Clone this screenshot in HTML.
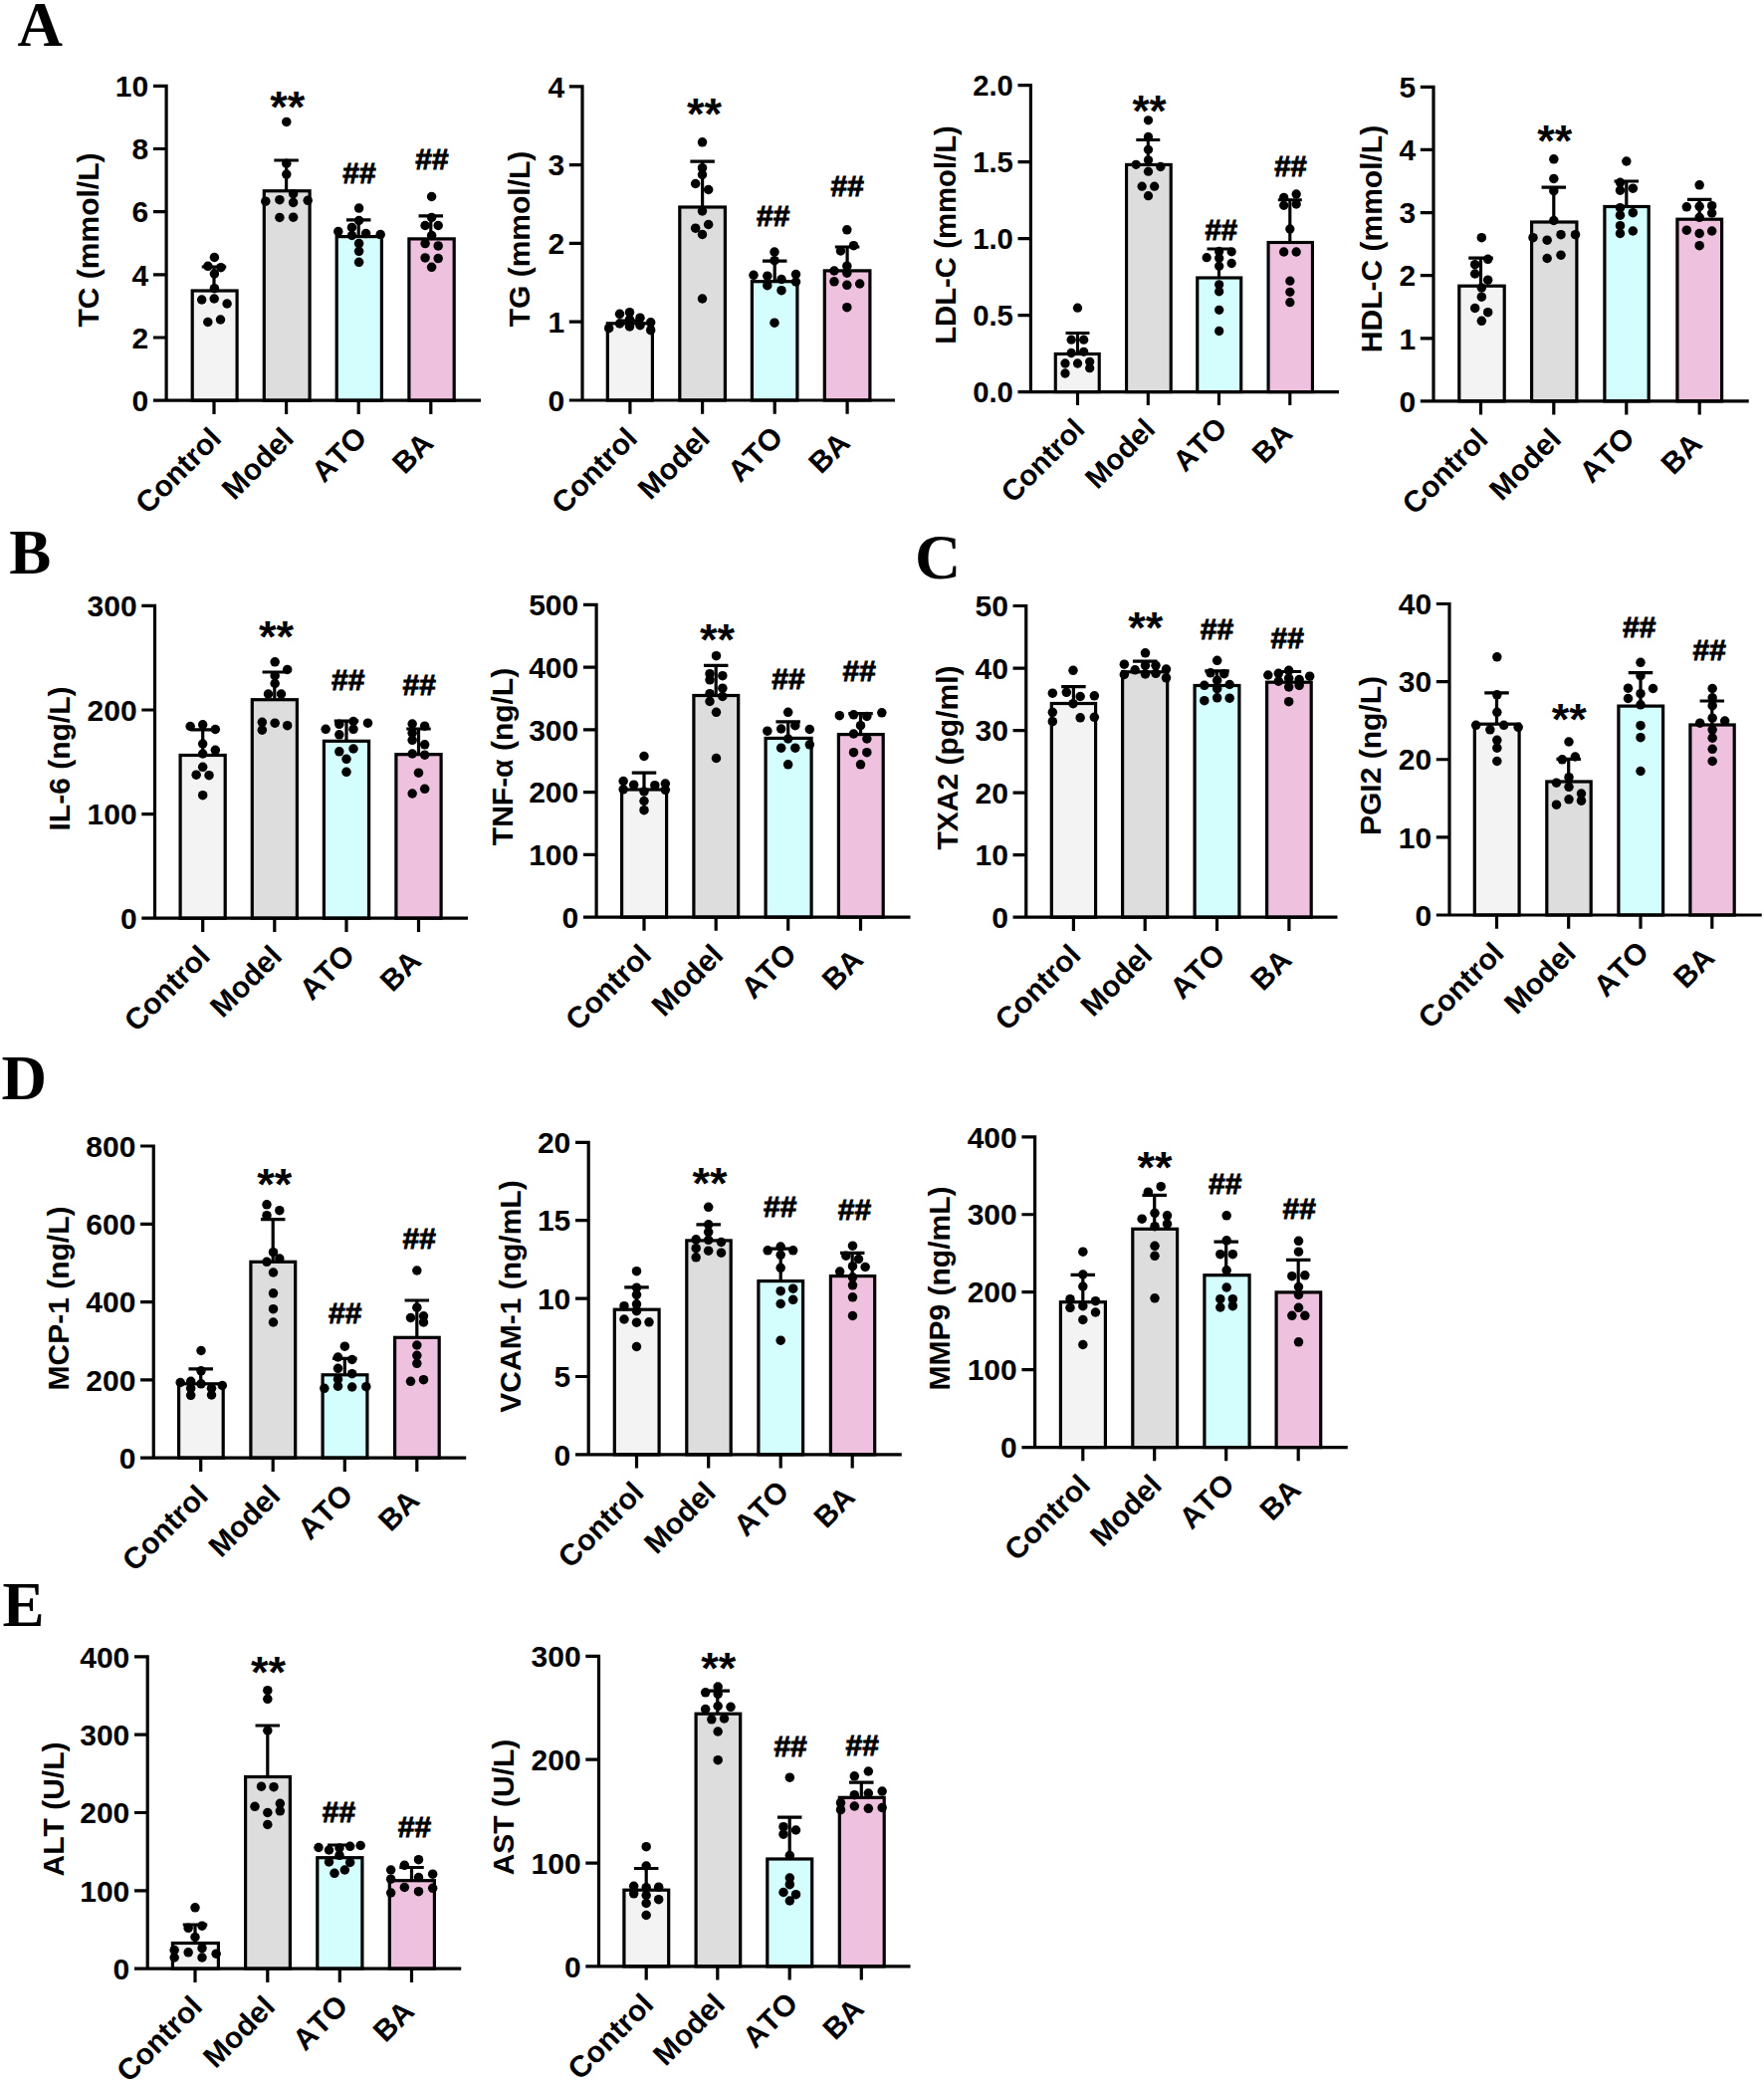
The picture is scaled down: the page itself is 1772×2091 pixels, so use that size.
<!DOCTYPE html>
<html lang="en">
<head>
<meta charset="utf-8">
<title>Figure</title>
<style>
html,body{margin:0;padding:0;background:#fff;}
body{width:1772px;height:2091px;overflow:hidden;}
svg{display:block;}
text{fill:#000;font-kerning:none;}
.b{font-family:"Liberation Sans",Arial,Helvetica,sans-serif;font-weight:700;}
.s{font-family:"Liberation Sans",Arial,Helvetica,sans-serif;font-weight:700;}
.h{font-family:"Liberation Sans",Arial,Helvetica,sans-serif;font-weight:700;stroke:#000;stroke-width:0.9px;stroke-linejoin:miter;}
.L{font-family:"Liberation Serif","Times New Roman",Times,serif;font-weight:700;}
</style>
</head>
<body>
<svg width="1772" height="2091" viewBox="0 0 1772 2091">
<rect width="1772" height="2091" fill="#fff"/>
<g class="chart" id="c-TC">
<rect x="193.2" y="292" width="44.9" height="110.2" fill="#f3f3f3" stroke="#000" stroke-width="3.2"/>
<rect x="265.3" y="191.75" width="45.8" height="210.45" fill="#dddddd" stroke="#000" stroke-width="3.2"/>
<rect x="338.2" y="237.6" width="45.2" height="164.6" fill="#d4fdfd" stroke="#000" stroke-width="3.2"/>
<rect x="410.9" y="239.9" width="45.3" height="162.3" fill="#eec1df" stroke="#000" stroke-width="3.2"/>
<path d="M215 292V268M202.75 268H227.25" fill="none" stroke="#000" stroke-width="3.2"/>
<path d="M287.6 191.75V161M275.35 161H299.85" fill="none" stroke="#000" stroke-width="3.2"/>
<path d="M360.2 237.6V220.9M347.95 220.9H372.45" fill="none" stroke="#000" stroke-width="3.2"/>
<path d="M432.8 239.9V216.9M420.55 216.9H445.05" fill="none" stroke="#000" stroke-width="3.2"/>
<path d="M167.1 84.7V402.2M153.9 402.2H483M153.9 339.02H167.1M153.9 275.84H167.1M153.9 212.66H167.1M153.9 149.48H167.1M153.9 86.3H167.1M215 402.2V415.9M287.6 402.2V415.9M360.2 402.2V415.9M432.8 402.2V415.9" fill="none" stroke="#000" stroke-width="3.2"/>
<text class="b" font-size="30" text-anchor="end" x="149.2" y="412.94">0</text>
<text class="b" font-size="30" text-anchor="end" x="149.2" y="349.76">2</text>
<text class="b" font-size="30" text-anchor="end" x="149.2" y="286.58">4</text>
<text class="b" font-size="30" text-anchor="end" x="149.2" y="223.4">6</text>
<text class="b" font-size="30" text-anchor="end" x="149.2" y="160.22">8</text>
<text class="b" font-size="30" text-anchor="end" x="149.2" y="97.04">10</text>
<text class="b" font-size="30" text-anchor="end" transform="translate(224 442.2) rotate(-45)">Control</text>
<text class="b" font-size="30" text-anchor="end" transform="translate(296.6 442.2) rotate(-45)">Model</text>
<text class="b" font-size="30" text-anchor="end" transform="translate(370.26 441.14) rotate(-45)">ATO</text>
<text class="b" font-size="30" text-anchor="end" transform="translate(437.2 446.8) rotate(-45)">BA</text>
<text class="b" font-size="30" text-anchor="middle" transform="translate(98.64 241) rotate(-90)">TC (mmol/L)</text>
<text class="s" font-size="45" text-anchor="middle" x="288.7" y="122.78">**</text>
<text class="h" font-size="30" text-anchor="middle" x="361" y="183.94">##</text>
<text class="h" font-size="30" text-anchor="middle" x="434" y="170.04">##</text>
<g fill="#000"><circle cx="215.4" cy="258.5" r="4.75"/><circle cx="208.9" cy="267.3" r="4.75"/><circle cx="221.9" cy="268.7" r="4.75"/><circle cx="215.4" cy="275" r="4.75"/><circle cx="215.4" cy="289.7" r="4.75"/><circle cx="202.7" cy="301" r="4.75"/><circle cx="215.2" cy="300" r="4.75"/><circle cx="228.1" cy="305" r="4.75"/><circle cx="208.8" cy="323.5" r="4.75"/><circle cx="221.5" cy="321" r="4.75"/><circle cx="287.8" cy="122.4" r="4.75"/><circle cx="287.8" cy="164.2" r="4.75"/><circle cx="287.8" cy="175.1" r="4.75"/><circle cx="294.6" cy="194.7" r="4.75"/><circle cx="266.8" cy="202.2" r="4.75"/><circle cx="280.9" cy="200.7" r="4.75"/><circle cx="294.6" cy="203.4" r="4.75"/><circle cx="309.2" cy="201.3" r="4.75"/><circle cx="280.9" cy="218.4" r="4.75"/><circle cx="294.6" cy="218.2" r="4.75"/><circle cx="360.6" cy="209.1" r="4.75"/><circle cx="360.6" cy="221.5" r="4.75"/><circle cx="353.5" cy="228.4" r="4.75"/><circle cx="339.8" cy="232.5" r="4.75"/><circle cx="353.5" cy="236.5" r="4.75"/><circle cx="367.6" cy="234.6" r="4.75"/><circle cx="382.2" cy="235.6" r="4.75"/><circle cx="360.6" cy="244.6" r="4.75"/><circle cx="360.6" cy="252.3" r="4.75"/><circle cx="360.6" cy="263.3" r="4.75"/><circle cx="433.6" cy="197.5" r="4.75"/><circle cx="433.6" cy="218.4" r="4.75"/><circle cx="427.1" cy="226.5" r="4.75"/><circle cx="440.2" cy="226.5" r="4.75"/><circle cx="433.6" cy="236.5" r="4.75"/><circle cx="427.1" cy="244.6" r="4.75"/><circle cx="440.2" cy="246.9" r="4.75"/><circle cx="427.1" cy="258.9" r="4.75"/><circle cx="440.2" cy="259.6" r="4.75"/><circle cx="433.6" cy="268.3" r="4.75"/></g>
</g>
<g class="chart" id="c-TG">
<rect x="610.3" y="324.8" width="45.1" height="77.2" fill="#f3f3f3" stroke="#000" stroke-width="3.2"/>
<rect x="682.8" y="208" width="45.6" height="194" fill="#dddddd" stroke="#000" stroke-width="3.2"/>
<rect x="755.4" y="282.7" width="45.5" height="119.3" fill="#d4fdfd" stroke="#000" stroke-width="3.2"/>
<rect x="828.3" y="271.9" width="45.6" height="130.1" fill="#eec1df" stroke="#000" stroke-width="3.2"/>
<path d="M632.9 324.8V322M620.65 322H645.15" fill="none" stroke="#000" stroke-width="3.2"/>
<path d="M705.6 208V162.2M693.35 162.2H717.85" fill="none" stroke="#000" stroke-width="3.2"/>
<path d="M778.2 282.7V262.2M765.95 262.2H790.45" fill="none" stroke="#000" stroke-width="3.2"/>
<path d="M851.1 271.9V248M838.85 248H863.35" fill="none" stroke="#000" stroke-width="3.2"/>
<path d="M585 85.2V402M571.8 402H899M571.8 323.2H585M571.8 244.4H585M571.8 165.6H585M571.8 86.8H585M632.9 402V415.7M705.6 402V415.7M778.2 402V415.7M851.1 402V415.7" fill="none" stroke="#000" stroke-width="3.2"/>
<text class="b" font-size="30" text-anchor="end" x="567.1" y="412.74">0</text>
<text class="b" font-size="30" text-anchor="end" x="567.1" y="333.94">1</text>
<text class="b" font-size="30" text-anchor="end" x="567.1" y="255.14">2</text>
<text class="b" font-size="30" text-anchor="end" x="567.1" y="176.34">3</text>
<text class="b" font-size="30" text-anchor="end" x="567.1" y="97.54">4</text>
<text class="b" font-size="30" text-anchor="end" transform="translate(641.9 442) rotate(-45)">Control</text>
<text class="b" font-size="30" text-anchor="end" transform="translate(714.6 442) rotate(-45)">Model</text>
<text class="b" font-size="30" text-anchor="end" transform="translate(788.26 440.94) rotate(-45)">ATO</text>
<text class="b" font-size="30" text-anchor="end" transform="translate(855.5 446.6) rotate(-45)">BA</text>
<text class="b" font-size="30" text-anchor="middle" transform="translate(532.24 240) rotate(-90)">TG (mmol/L)</text>
<text class="s" font-size="45" text-anchor="middle" x="707.5" y="129.78">**</text>
<text class="h" font-size="30" text-anchor="middle" x="776.7" y="226.84">##</text>
<text class="h" font-size="30" text-anchor="middle" x="851.2" y="197.04">##</text>
<g fill="#000"><circle cx="632.5" cy="313.67" r="4.75"/><circle cx="622.5" cy="315.33" r="4.75"/><circle cx="643" cy="319.17" r="4.75"/><circle cx="632.5" cy="320.83" r="4.75"/><circle cx="653.67" cy="323.83" r="4.75"/><circle cx="622.5" cy="325" r="4.75"/><circle cx="643" cy="326.67" r="4.75"/><circle cx="632.5" cy="328" r="4.75"/><circle cx="611.67" cy="329.67" r="4.75"/><circle cx="653.67" cy="331.67" r="4.75"/><circle cx="705.5" cy="142.83" r="4.75"/><circle cx="705.5" cy="168.67" r="4.75"/><circle cx="705.5" cy="175.5" r="4.75"/><circle cx="698.67" cy="184.5" r="4.75"/><circle cx="711.67" cy="190.5" r="4.75"/><circle cx="705.5" cy="212" r="4.75"/><circle cx="711.67" cy="225.5" r="4.75"/><circle cx="698.67" cy="229.17" r="4.75"/><circle cx="705.5" cy="235.5" r="4.75"/><circle cx="705.5" cy="300" r="4.75"/><circle cx="778" cy="253" r="4.75"/><circle cx="778" cy="261.67" r="4.75"/><circle cx="757" cy="276.33" r="4.75"/><circle cx="770.83" cy="277.17" r="4.75"/><circle cx="799.5" cy="275.5" r="4.75"/><circle cx="785" cy="280.5" r="4.75"/><circle cx="799.5" cy="283" r="4.75"/><circle cx="770.83" cy="286.67" r="4.75"/><circle cx="785" cy="291.67" r="4.75"/><circle cx="778" cy="324.17" r="4.75"/><circle cx="850.83" cy="230.83" r="4.75"/><circle cx="857.5" cy="246.67" r="4.75"/><circle cx="844.5" cy="252" r="4.75"/><circle cx="850.83" cy="267.17" r="4.75"/><circle cx="838" cy="272" r="4.75"/><circle cx="850.83" cy="274.17" r="4.75"/><circle cx="838" cy="282.83" r="4.75"/><circle cx="850.83" cy="286.33" r="4.75"/><circle cx="863.67" cy="285" r="4.75"/><circle cx="850.83" cy="308.67" r="4.75"/></g>
</g>
<g class="chart" id="c-LDL">
<rect x="1060.26" y="355.5" width="43.97" height="38.1" fill="#f3f3f3" stroke="#000" stroke-width="3.13"/>
<rect x="1131.56" y="165.4" width="44.67" height="228.2" fill="#dddddd" stroke="#000" stroke-width="3.13"/>
<rect x="1202.76" y="279" width="43.97" height="114.6" fill="#d4fdfd" stroke="#000" stroke-width="3.13"/>
<rect x="1274.06" y="243.5" width="44.37" height="150.1" fill="#eec1df" stroke="#000" stroke-width="3.13"/>
<path d="M1082.5 355.5V334.5M1070.53 334.5H1094.47" fill="none" stroke="#000" stroke-width="3.13"/>
<path d="M1153.3 165.4V140.5M1141.33 140.5H1165.27" fill="none" stroke="#000" stroke-width="3.13"/>
<path d="M1224.5 279V250M1212.53 250H1236.47" fill="none" stroke="#000" stroke-width="3.13"/>
<path d="M1295.8 243.5V200.8M1283.83 200.8H1307.77" fill="none" stroke="#000" stroke-width="3.13"/>
<path d="M1035.4 84.04V393.6M1022.5 393.6H1345M1022.5 316.6H1035.4M1022.5 239.6H1035.4M1022.5 162.6H1035.4M1022.5 85.6H1035.4M1082.5 393.6V406.98M1153.3 393.6V406.98M1224.5 393.6V406.98M1295.8 393.6V406.98" fill="none" stroke="#000" stroke-width="3.13"/>
<text class="b" font-size="29.31" text-anchor="end" x="1017.91" y="404.09">0.0</text>
<text class="b" font-size="29.31" text-anchor="end" x="1017.91" y="327.09">0.5</text>
<text class="b" font-size="29.31" text-anchor="end" x="1017.91" y="250.09">1.0</text>
<text class="b" font-size="29.31" text-anchor="end" x="1017.91" y="173.09">1.5</text>
<text class="b" font-size="29.31" text-anchor="end" x="1017.91" y="96.09">2.0</text>
<text class="b" font-size="29.31" text-anchor="end" transform="translate(1091.29 432.68) rotate(-45)">Control</text>
<text class="b" font-size="29.31" text-anchor="end" transform="translate(1162.09 432.68) rotate(-45)">Model</text>
<text class="b" font-size="29.31" text-anchor="end" transform="translate(1234.35 431.62) rotate(-45)">ATO</text>
<text class="b" font-size="29.31" text-anchor="end" transform="translate(1300 437.28) rotate(-45)">BA</text>
<text class="b" font-size="29.31" text-anchor="middle" transform="translate(960.19 236) rotate(-90)">LDL-C (mmol/L)</text>
<text class="s" font-size="43.96" text-anchor="middle" x="1154.5" y="126.76">**</text>
<text class="h" font-size="29.31" text-anchor="middle" x="1226.7" y="240.79">##</text>
<text class="h" font-size="29.31" text-anchor="middle" x="1296.5" y="177.19">##</text>
<g fill="#000"><circle cx="1082.5" cy="309.17" r="4.64"/><circle cx="1076.17" cy="341.17" r="4.64"/><circle cx="1088.67" cy="341.17" r="4.64"/><circle cx="1076.17" cy="354.5" r="4.64"/><circle cx="1088.67" cy="353.33" r="4.64"/><circle cx="1070" cy="365" r="4.64"/><circle cx="1082.5" cy="365" r="4.64"/><circle cx="1094.67" cy="363.33" r="4.64"/><circle cx="1094.67" cy="369.67" r="4.64"/><circle cx="1070" cy="375" r="4.64"/><circle cx="1153.5" cy="120.83" r="4.64"/><circle cx="1153.5" cy="137.5" r="4.64"/><circle cx="1153.5" cy="150.33" r="4.64"/><circle cx="1153.5" cy="160.83" r="4.64"/><circle cx="1141.17" cy="165.33" r="4.64"/><circle cx="1165.83" cy="167.5" r="4.64"/><circle cx="1153.5" cy="172.17" r="4.64"/><circle cx="1147.17" cy="187.17" r="4.64"/><circle cx="1159.67" cy="187.17" r="4.64"/><circle cx="1153.5" cy="196.67" r="4.64"/><circle cx="1224.67" cy="252.5" r="4.64"/><circle cx="1237.17" cy="252.83" r="4.64"/><circle cx="1212.17" cy="258.67" r="4.64"/><circle cx="1224.67" cy="259.17" r="4.64"/><circle cx="1237.17" cy="264.5" r="4.64"/><circle cx="1224.67" cy="267.17" r="4.64"/><circle cx="1224.67" cy="285.83" r="4.64"/><circle cx="1224.67" cy="292.83" r="4.64"/><circle cx="1224.67" cy="311.33" r="4.64"/><circle cx="1224.67" cy="332.5" r="4.64"/><circle cx="1302.17" cy="195" r="4.64"/><circle cx="1289.67" cy="198.33" r="4.64"/><circle cx="1289.67" cy="206.33" r="4.64"/><circle cx="1302.17" cy="205" r="4.64"/><circle cx="1295.83" cy="230" r="4.64"/><circle cx="1289.67" cy="253" r="4.64"/><circle cx="1302.17" cy="253" r="4.64"/><circle cx="1295.83" cy="282.17" r="4.64"/><circle cx="1295.83" cy="293.33" r="4.64"/><circle cx="1295.83" cy="303.67" r="4.64"/></g>
</g>
<g class="chart" id="c-HDL">
<rect x="1465.8" y="287.2" width="45.4" height="115.7" fill="#f3f3f3" stroke="#000" stroke-width="3.2"/>
<rect x="1538.6" y="223" width="45.3" height="179.9" fill="#dddddd" stroke="#000" stroke-width="3.2"/>
<rect x="1611.9" y="207.5" width="44.3" height="195.4" fill="#d4fdfd" stroke="#000" stroke-width="3.2"/>
<rect x="1684.9" y="220.2" width="44.7" height="182.7" fill="#eec1df" stroke="#000" stroke-width="3.2"/>
<path d="M1487.5 287.2V259.2M1475.25 259.2H1499.75" fill="none" stroke="#000" stroke-width="3.2"/>
<path d="M1560.8 223V188.2M1548.55 188.2H1573.05" fill="none" stroke="#000" stroke-width="3.2"/>
<path d="M1633.8 207.5V182M1621.55 182H1646.05" fill="none" stroke="#000" stroke-width="3.2"/>
<path d="M1707.2 220.2V200.3M1694.95 200.3H1719.45" fill="none" stroke="#000" stroke-width="3.2"/>
<path d="M1440 85.7V402.9M1426.8 402.9H1756.75M1426.8 339.78H1440M1426.8 276.66H1440M1426.8 213.54H1440M1426.8 150.42H1440M1426.8 87.3H1440M1487.5 402.9V416.6M1560.8 402.9V416.6M1633.8 402.9V416.6M1707.2 402.9V416.6" fill="none" stroke="#000" stroke-width="3.2"/>
<text class="b" font-size="30" text-anchor="end" x="1422.1" y="413.64">0</text>
<text class="b" font-size="30" text-anchor="end" x="1422.1" y="350.52">1</text>
<text class="b" font-size="30" text-anchor="end" x="1422.1" y="287.4">2</text>
<text class="b" font-size="30" text-anchor="end" x="1422.1" y="224.28">3</text>
<text class="b" font-size="30" text-anchor="end" x="1422.1" y="161.16">4</text>
<text class="b" font-size="30" text-anchor="end" x="1422.1" y="98.04">5</text>
<text class="b" font-size="30" text-anchor="end" transform="translate(1496.5 442.9) rotate(-45)">Control</text>
<text class="b" font-size="30" text-anchor="end" transform="translate(1569.8 442.9) rotate(-45)">Model</text>
<text class="b" font-size="30" text-anchor="end" transform="translate(1643.86 441.84) rotate(-45)">ATO</text>
<text class="b" font-size="30" text-anchor="end" transform="translate(1711.6 447.5) rotate(-45)">BA</text>
<text class="b" font-size="30" text-anchor="middle" transform="translate(1388.14 240) rotate(-90)">HDL-C (mmol/L)</text>
<text class="s" font-size="45" text-anchor="middle" x="1561.7" y="156.78">**</text>
<g fill="#000"><circle cx="1488.33" cy="238.67" r="4.75"/><circle cx="1494.67" cy="260.33" r="4.75"/><circle cx="1481.67" cy="265.67" r="4.75"/><circle cx="1481.67" cy="275" r="4.75"/><circle cx="1494.67" cy="281.17" r="4.75"/><circle cx="1488.33" cy="289" r="4.75"/><circle cx="1488.33" cy="298.17" r="4.75"/><circle cx="1481.67" cy="309.5" r="4.75"/><circle cx="1494.67" cy="313.67" r="4.75"/><circle cx="1488.33" cy="322.33" r="4.75"/><circle cx="1560.83" cy="159.83" r="4.75"/><circle cx="1560.83" cy="179.5" r="4.75"/><circle cx="1560.83" cy="191.67" r="4.75"/><circle cx="1560.83" cy="221.5" r="4.75"/><circle cx="1540" cy="238.67" r="4.75"/><circle cx="1554.17" cy="241.17" r="4.75"/><circle cx="1568" cy="235.67" r="4.75"/><circle cx="1582.5" cy="235.67" r="4.75"/><circle cx="1554.17" cy="259.5" r="4.75"/><circle cx="1568" cy="256.17" r="4.75"/><circle cx="1633.83" cy="162" r="4.75"/><circle cx="1627.5" cy="183.33" r="4.75"/><circle cx="1627.5" cy="191.17" r="4.75"/><circle cx="1640.33" cy="189.17" r="4.75"/><circle cx="1627.5" cy="208.67" r="4.75"/><circle cx="1640.33" cy="213.67" r="4.75"/><circle cx="1627.5" cy="216.17" r="4.75"/><circle cx="1627.5" cy="226.67" r="4.75"/><circle cx="1640.33" cy="232" r="4.75"/><circle cx="1627.5" cy="234.5" r="4.75"/><circle cx="1707.17" cy="185.83" r="4.75"/><circle cx="1694.33" cy="207.83" r="4.75"/><circle cx="1707.17" cy="207.33" r="4.75"/><circle cx="1719.67" cy="206.67" r="4.75"/><circle cx="1719.67" cy="214" r="4.75"/><circle cx="1707.17" cy="218.33" r="4.75"/><circle cx="1694.33" cy="231.17" r="4.75"/><circle cx="1707.17" cy="234.5" r="4.75"/><circle cx="1719.67" cy="232" r="4.75"/><circle cx="1707.17" cy="246.67" r="4.75"/></g>
</g>
<g class="chart" id="c-IL6">
<rect x="181.1" y="758.5" width="45.1" height="163.7" fill="#f3f3f3" stroke="#000" stroke-width="3.2"/>
<rect x="253.3" y="702.7" width="45.1" height="219.5" fill="#dddddd" stroke="#000" stroke-width="3.2"/>
<rect x="325.4" y="744.3" width="45.2" height="177.9" fill="#d4fdfd" stroke="#000" stroke-width="3.2"/>
<rect x="397.9" y="757.7" width="45.2" height="164.5" fill="#eec1df" stroke="#000" stroke-width="3.2"/>
<path d="M203.7 758.5V732.8M191.45 732.8H215.95" fill="none" stroke="#000" stroke-width="3.2"/>
<path d="M275.8 702.7V675M263.55 675H288.05" fill="none" stroke="#000" stroke-width="3.2"/>
<path d="M348 744.3V724.2M335.75 724.2H360.25" fill="none" stroke="#000" stroke-width="3.2"/>
<path d="M420.5 757.7V732M408.25 732H432.75" fill="none" stroke="#000" stroke-width="3.2"/>
<path d="M155.5 606.8V922.2M142.3 922.2H470M142.3 817.6H155.5M142.3 713H155.5M142.3 608.4H155.5M203.7 922.2V935.9M275.8 922.2V935.9M348 922.2V935.9M420.5 922.2V935.9" fill="none" stroke="#000" stroke-width="3.2"/>
<text class="b" font-size="30" text-anchor="end" x="137.6" y="932.94">0</text>
<text class="b" font-size="30" text-anchor="end" x="137.6" y="828.34">100</text>
<text class="b" font-size="30" text-anchor="end" x="137.6" y="723.74">200</text>
<text class="b" font-size="30" text-anchor="end" x="137.6" y="619.14">300</text>
<text class="b" font-size="30" text-anchor="end" transform="translate(212.7 962.2) rotate(-45)">Control</text>
<text class="b" font-size="30" text-anchor="end" transform="translate(284.8 962.2) rotate(-45)">Model</text>
<text class="b" font-size="30" text-anchor="end" transform="translate(358.06 961.14) rotate(-45)">ATO</text>
<text class="b" font-size="30" text-anchor="end" transform="translate(424.9 966.8) rotate(-45)">BA</text>
<text class="b" font-size="30" text-anchor="middle" transform="translate(70.24 762) rotate(-90)">IL-6 (ng/L)</text>
<text class="s" font-size="45" text-anchor="middle" x="277.5" y="654.77">**</text>
<text class="h" font-size="30" text-anchor="middle" x="349.8" y="693.14">##</text>
<text class="h" font-size="30" text-anchor="middle" x="421.3" y="697.54">##</text>
<g fill="#000"><circle cx="191.17" cy="729.5" r="4.75"/><circle cx="203.67" cy="727.83" r="4.75"/><circle cx="216.33" cy="732.5" r="4.75"/><circle cx="203.67" cy="747" r="4.75"/><circle cx="216.33" cy="753.33" r="4.75"/><circle cx="203.67" cy="757" r="4.75"/><circle cx="203.67" cy="770.33" r="4.75"/><circle cx="197.17" cy="778.17" r="4.75"/><circle cx="210" cy="778.67" r="4.75"/><circle cx="203.67" cy="798.67" r="4.75"/><circle cx="276.17" cy="664.83" r="4.75"/><circle cx="288.67" cy="672.5" r="4.75"/><circle cx="276.17" cy="678.67" r="4.75"/><circle cx="276.17" cy="686.5" r="4.75"/><circle cx="269.5" cy="697" r="4.75"/><circle cx="282.5" cy="697" r="4.75"/><circle cx="263.33" cy="725.33" r="4.75"/><circle cx="263.33" cy="733.17" r="4.75"/><circle cx="276.17" cy="726.17" r="4.75"/><circle cx="288.67" cy="728.67" r="4.75"/><circle cx="355" cy="724.5" r="4.75"/><circle cx="369.5" cy="726.17" r="4.75"/><circle cx="340.83" cy="727.33" r="4.75"/><circle cx="327.17" cy="732.33" r="4.75"/><circle cx="355" cy="732.33" r="4.75"/><circle cx="340.83" cy="737.83" r="4.75"/><circle cx="355" cy="752" r="4.75"/><circle cx="340.83" cy="754.83" r="4.75"/><circle cx="348" cy="762.33" r="4.75"/><circle cx="348" cy="775.33" r="4.75"/><circle cx="414.17" cy="727" r="4.75"/><circle cx="426.67" cy="729.17" r="4.75"/><circle cx="414.17" cy="736.17" r="4.75"/><circle cx="414.17" cy="743.33" r="4.75"/><circle cx="426.67" cy="747.83" r="4.75"/><circle cx="414.17" cy="757" r="4.75"/><circle cx="426.67" cy="758.17" r="4.75"/><circle cx="420.5" cy="776.17" r="4.75"/><circle cx="426.67" cy="792.33" r="4.75"/><circle cx="414.17" cy="797" r="4.75"/></g>
</g>
<g class="chart" id="c-TNF">
<rect x="624.6" y="793" width="45" height="128.1" fill="#f3f3f3" stroke="#000" stroke-width="3.2"/>
<rect x="696.9" y="698.5" width="44.8" height="222.6" fill="#dddddd" stroke="#000" stroke-width="3.2"/>
<rect x="769.1" y="741.4" width="46" height="179.7" fill="#d4fdfd" stroke="#000" stroke-width="3.2"/>
<rect x="842.4" y="737.6" width="44.8" height="183.5" fill="#eec1df" stroke="#000" stroke-width="3.2"/>
<path d="M647 793V776.2M634.75 776.2H659.25" fill="none" stroke="#000" stroke-width="3.2"/>
<path d="M719.2 698.5V668.3M706.95 668.3H731.45" fill="none" stroke="#000" stroke-width="3.2"/>
<path d="M791.7 741.4V724.8M779.45 724.8H803.95" fill="none" stroke="#000" stroke-width="3.2"/>
<path d="M864.5 737.6V716.7M852.25 716.7H876.75" fill="none" stroke="#000" stroke-width="3.2"/>
<path d="M599.1 605.7V921.1M585.9 921.1H914.5M585.9 858.34H599.1M585.9 795.58H599.1M585.9 732.82H599.1M585.9 670.06H599.1M585.9 607.3H599.1M647 921.1V934.8M719.2 921.1V934.8M791.7 921.1V934.8M864.5 921.1V934.8" fill="none" stroke="#000" stroke-width="3.2"/>
<text class="b" font-size="30" text-anchor="end" x="581.2" y="931.84">0</text>
<text class="b" font-size="30" text-anchor="end" x="581.2" y="869.08">100</text>
<text class="b" font-size="30" text-anchor="end" x="581.2" y="806.32">200</text>
<text class="b" font-size="30" text-anchor="end" x="581.2" y="743.56">300</text>
<text class="b" font-size="30" text-anchor="end" x="581.2" y="680.8">400</text>
<text class="b" font-size="30" text-anchor="end" x="581.2" y="618.04">500</text>
<text class="b" font-size="30" text-anchor="end" transform="translate(656 961.1) rotate(-45)">Control</text>
<text class="b" font-size="30" text-anchor="end" transform="translate(728.2 961.1) rotate(-45)">Model</text>
<text class="b" font-size="30" text-anchor="end" transform="translate(801.76 960.04) rotate(-45)">ATO</text>
<text class="b" font-size="30" text-anchor="end" transform="translate(868.9 965.7) rotate(-45)">BA</text>
<text class="b" font-size="30" text-anchor="middle" transform="translate(515.24 760) rotate(-90)">TNF-α (ng/L)</text>
<text class="s" font-size="45" text-anchor="middle" x="720.4" y="658.27">**</text>
<text class="h" font-size="30" text-anchor="middle" x="791.9" y="691.64">##</text>
<text class="h" font-size="30" text-anchor="middle" x="863.3" y="684.24">##</text>
<g fill="#000"><circle cx="647" cy="759.5" r="4.75"/><circle cx="626.17" cy="784.5" r="4.75"/><circle cx="668.33" cy="787" r="4.75"/><circle cx="636.67" cy="788.17" r="4.75"/><circle cx="657.83" cy="788.67" r="4.75"/><circle cx="626.17" cy="792.83" r="4.75"/><circle cx="668.33" cy="793.33" r="4.75"/><circle cx="647" cy="795" r="4.75"/><circle cx="647" cy="804.5" r="4.75"/><circle cx="647" cy="813.67" r="4.75"/><circle cx="719.5" cy="658.67" r="4.75"/><circle cx="713" cy="676.67" r="4.75"/><circle cx="725.83" cy="678.67" r="4.75"/><circle cx="713" cy="682.83" r="4.75"/><circle cx="725.83" cy="691.17" r="4.75"/><circle cx="713" cy="696.67" r="4.75"/><circle cx="725.83" cy="699.5" r="4.75"/><circle cx="713" cy="704.5" r="4.75"/><circle cx="719.5" cy="715.33" r="4.75"/><circle cx="719.5" cy="761.5" r="4.75"/><circle cx="791.67" cy="715.33" r="4.75"/><circle cx="798.83" cy="728.67" r="4.75"/><circle cx="784.67" cy="732" r="4.75"/><circle cx="813.33" cy="732.5" r="4.75"/><circle cx="770.83" cy="734.17" r="4.75"/><circle cx="791.67" cy="742" r="4.75"/><circle cx="813.33" cy="747.83" r="4.75"/><circle cx="784.67" cy="751.17" r="4.75"/><circle cx="798.83" cy="751.17" r="4.75"/><circle cx="791.67" cy="767.83" r="4.75"/><circle cx="885.83" cy="715.83" r="4.75"/><circle cx="843.33" cy="718.67" r="4.75"/><circle cx="857.5" cy="717.83" r="4.75"/><circle cx="870.83" cy="719.5" r="4.75"/><circle cx="864.5" cy="728.67" r="4.75"/><circle cx="857.5" cy="737" r="4.75"/><circle cx="870.83" cy="742" r="4.75"/><circle cx="857.5" cy="755.67" r="4.75"/><circle cx="870.83" cy="755.67" r="4.75"/><circle cx="864.5" cy="767.83" r="4.75"/></g>
</g>
<g class="chart" id="c-TXA2">
<rect x="1056.3" y="706.5" width="44.3" height="214.7" fill="#f3f3f3" stroke="#000" stroke-width="3.2"/>
<rect x="1127.6" y="674.8" width="45.1" height="246.4" fill="#dddddd" stroke="#000" stroke-width="3.2"/>
<rect x="1200.1" y="688.5" width="44.8" height="232.7" fill="#d4fdfd" stroke="#000" stroke-width="3.2"/>
<rect x="1272.6" y="685.2" width="44.6" height="236" fill="#eec1df" stroke="#000" stroke-width="3.2"/>
<path d="M1078.4 706.5V689.7M1066.15 689.7H1090.65" fill="none" stroke="#000" stroke-width="3.2"/>
<path d="M1150.2 674.8V664.2M1137.95 664.2H1162.45" fill="none" stroke="#000" stroke-width="3.2"/>
<path d="M1222.5 688.5V673.8M1210.25 673.8H1234.75" fill="none" stroke="#000" stroke-width="3.2"/>
<path d="M1294.9 685.2V674.5M1282.65 674.5H1307.15" fill="none" stroke="#000" stroke-width="3.2"/>
<path d="M1030.75 606.9V921.2M1017.55 921.2H1343.5M1017.55 858.66H1030.75M1017.55 796.12H1030.75M1017.55 733.58H1030.75M1017.55 671.04H1030.75M1017.55 608.5H1030.75M1078.4 921.2V934.9M1150.2 921.2V934.9M1222.5 921.2V934.9M1294.9 921.2V934.9" fill="none" stroke="#000" stroke-width="3.2"/>
<text class="b" font-size="30" text-anchor="end" x="1012.85" y="931.94">0</text>
<text class="b" font-size="30" text-anchor="end" x="1012.85" y="869.4">10</text>
<text class="b" font-size="30" text-anchor="end" x="1012.85" y="806.86">20</text>
<text class="b" font-size="30" text-anchor="end" x="1012.85" y="744.32">30</text>
<text class="b" font-size="30" text-anchor="end" x="1012.85" y="681.78">40</text>
<text class="b" font-size="30" text-anchor="end" x="1012.85" y="619.24">50</text>
<text class="b" font-size="30" text-anchor="end" transform="translate(1087.4 961.2) rotate(-45)">Control</text>
<text class="b" font-size="30" text-anchor="end" transform="translate(1159.2 961.2) rotate(-45)">Model</text>
<text class="b" font-size="30" text-anchor="end" transform="translate(1232.56 960.14) rotate(-45)">ATO</text>
<text class="b" font-size="30" text-anchor="end" transform="translate(1299.3 965.8) rotate(-45)">BA</text>
<text class="b" font-size="30" text-anchor="middle" transform="translate(962.24 761) rotate(-90)">TXA2 (pg/ml)</text>
<text class="s" font-size="45" text-anchor="middle" x="1150.8" y="646.07">**</text>
<text class="h" font-size="30" text-anchor="middle" x="1222.5" y="642.44">##</text>
<text class="h" font-size="30" text-anchor="middle" x="1293.2" y="651.34">##</text>
<g fill="#000"><circle cx="1078" cy="673.33" r="4.75"/><circle cx="1057.33" cy="696.17" r="4.75"/><circle cx="1071.33" cy="695.33" r="4.75"/><circle cx="1085.17" cy="699.5" r="4.75"/><circle cx="1099.33" cy="698.83" r="4.75"/><circle cx="1078" cy="706.67" r="4.75"/><circle cx="1057.33" cy="715.33" r="4.75"/><circle cx="1085.17" cy="720.83" r="4.75"/><circle cx="1099.33" cy="720.33" r="4.75"/><circle cx="1057.33" cy="724.67" r="4.75"/><circle cx="1150.5" cy="655.83" r="4.75"/><circle cx="1129.33" cy="667.17" r="4.75"/><circle cx="1150.5" cy="668.33" r="4.75"/><circle cx="1161" cy="668.33" r="4.75"/><circle cx="1140.17" cy="672.83" r="4.75"/><circle cx="1171.5" cy="672" r="4.75"/><circle cx="1129.33" cy="677.5" r="4.75"/><circle cx="1150.5" cy="677" r="4.75"/><circle cx="1161" cy="676.33" r="4.75"/><circle cx="1171.5" cy="680.83" r="4.75"/><circle cx="1222.67" cy="663.33" r="4.75"/><circle cx="1216" cy="675.83" r="4.75"/><circle cx="1229.67" cy="676.67" r="4.75"/><circle cx="1222.67" cy="683.33" r="4.75"/><circle cx="1209.83" cy="688.33" r="4.75"/><circle cx="1235.17" cy="687.5" r="4.75"/><circle cx="1222.67" cy="691.67" r="4.75"/><circle cx="1209.83" cy="703.67" r="4.75"/><circle cx="1222.67" cy="700.83" r="4.75"/><circle cx="1235.17" cy="701.17" r="4.75"/><circle cx="1294.67" cy="673.33" r="4.75"/><circle cx="1273.83" cy="678" r="4.75"/><circle cx="1284.33" cy="676.33" r="4.75"/><circle cx="1315.67" cy="679.17" r="4.75"/><circle cx="1284.33" cy="684.17" r="4.75"/><circle cx="1294.67" cy="681.17" r="4.75"/><circle cx="1305.17" cy="682.5" r="4.75"/><circle cx="1294.67" cy="690" r="4.75"/><circle cx="1305.17" cy="688.33" r="4.75"/><circle cx="1294.67" cy="704.67" r="4.75"/></g>
</g>
<g class="chart" id="c-PGI2">
<rect x="1481.3" y="727.2" width="44.8" height="191.8" fill="#f3f3f3" stroke="#000" stroke-width="3.2"/>
<rect x="1553.8" y="785" width="44.4" height="134" fill="#dddddd" stroke="#000" stroke-width="3.2"/>
<rect x="1625.9" y="709.1" width="44.7" height="209.9" fill="#d4fdfd" stroke="#000" stroke-width="3.2"/>
<rect x="1697.9" y="728" width="44.3" height="191" fill="#eec1df" stroke="#000" stroke-width="3.2"/>
<path d="M1503.5 727.2V695.8M1491.25 695.8H1515.75" fill="none" stroke="#000" stroke-width="3.2"/>
<path d="M1575.7 785V762.3M1563.45 762.3H1587.95" fill="none" stroke="#000" stroke-width="3.2"/>
<path d="M1648 709.1V675.7M1635.75 675.7H1660.25" fill="none" stroke="#000" stroke-width="3.2"/>
<path d="M1719.8 728V704M1707.55 704H1732.05" fill="none" stroke="#000" stroke-width="3.2"/>
<path d="M1456 604.9V919M1442.8 919H1769.75M1442.8 840.88H1456M1442.8 762.75H1456M1442.8 684.62H1456M1442.8 606.5H1456M1503.5 919V932.7M1575.7 919V932.7M1648 919V932.7M1719.8 919V932.7" fill="none" stroke="#000" stroke-width="3.2"/>
<text class="b" font-size="30" text-anchor="end" x="1438.1" y="929.74">0</text>
<text class="b" font-size="30" text-anchor="end" x="1438.1" y="851.62">10</text>
<text class="b" font-size="30" text-anchor="end" x="1438.1" y="773.49">20</text>
<text class="b" font-size="30" text-anchor="end" x="1438.1" y="695.37">30</text>
<text class="b" font-size="30" text-anchor="end" x="1438.1" y="617.24">40</text>
<text class="b" font-size="30" text-anchor="end" transform="translate(1512.5 959) rotate(-45)">Control</text>
<text class="b" font-size="30" text-anchor="end" transform="translate(1584.7 959) rotate(-45)">Model</text>
<text class="b" font-size="30" text-anchor="end" transform="translate(1658.06 957.94) rotate(-45)">ATO</text>
<text class="b" font-size="30" text-anchor="end" transform="translate(1724.2 963.6) rotate(-45)">BA</text>
<text class="b" font-size="30" text-anchor="middle" transform="translate(1387.04 759) rotate(-90)">PGI2 (ng/L)</text>
<text class="s" font-size="45" text-anchor="middle" x="1576.2" y="738.48">**</text>
<text class="h" font-size="30" text-anchor="middle" x="1646.8" y="640.34">##</text>
<text class="h" font-size="30" text-anchor="middle" x="1717.3" y="663.14">##</text>
<g fill="#000"><circle cx="1503.83" cy="659.83" r="4.75"/><circle cx="1503.83" cy="697.83" r="4.75"/><circle cx="1503.83" cy="715.33" r="4.75"/><circle cx="1482.67" cy="728.33" r="4.75"/><circle cx="1510.67" cy="728.33" r="4.75"/><circle cx="1525.17" cy="730.33" r="4.75"/><circle cx="1496.83" cy="732.83" r="4.75"/><circle cx="1503.83" cy="743.33" r="4.75"/><circle cx="1503.83" cy="751.17" r="4.75"/><circle cx="1503.83" cy="764.5" r="4.75"/><circle cx="1576" cy="745" r="4.75"/><circle cx="1582.33" cy="760" r="4.75"/><circle cx="1569.33" cy="762.83" r="4.75"/><circle cx="1576" cy="780.67" r="4.75"/><circle cx="1563.5" cy="786.17" r="4.75"/><circle cx="1576" cy="790.33" r="4.75"/><circle cx="1588.5" cy="797" r="4.75"/><circle cx="1576" cy="802.83" r="4.75"/><circle cx="1588.5" cy="804.17" r="4.75"/><circle cx="1563.5" cy="808.17" r="4.75"/><circle cx="1648" cy="665.33" r="4.75"/><circle cx="1648" cy="678.67" r="4.75"/><circle cx="1635.5" cy="691.17" r="4.75"/><circle cx="1660.5" cy="691.5" r="4.75"/><circle cx="1648" cy="696.67" r="4.75"/><circle cx="1635.5" cy="701.5" r="4.75"/><circle cx="1648" cy="707.83" r="4.75"/><circle cx="1648" cy="728.67" r="4.75"/><circle cx="1648" cy="740.67" r="4.75"/><circle cx="1648" cy="774.5" r="4.75"/><circle cx="1720.17" cy="691.5" r="4.75"/><circle cx="1720.17" cy="700.83" r="4.75"/><circle cx="1720.17" cy="708.67" r="4.75"/><circle cx="1720.17" cy="721.17" r="4.75"/><circle cx="1707.67" cy="726.17" r="4.75"/><circle cx="1732.67" cy="724" r="4.75"/><circle cx="1720.17" cy="732.83" r="4.75"/><circle cx="1720.17" cy="741.17" r="4.75"/><circle cx="1720.17" cy="752.33" r="4.75"/><circle cx="1720.17" cy="764.5" r="4.75"/></g>
</g>
<g class="chart" id="c-MCP1">
<rect x="179.6" y="1389.8" width="44.6" height="74.4" fill="#f3f3f3" stroke="#000" stroke-width="3.2"/>
<rect x="251.9" y="1267.3" width="44.8" height="196.9" fill="#dddddd" stroke="#000" stroke-width="3.2"/>
<rect x="324.1" y="1380.8" width="44.8" height="83.4" fill="#d4fdfd" stroke="#000" stroke-width="3.2"/>
<rect x="396.6" y="1343.3" width="44.6" height="120.9" fill="#eec1df" stroke="#000" stroke-width="3.2"/>
<path d="M201.7 1389.8V1374.8M189.45 1374.8H213.95" fill="none" stroke="#000" stroke-width="3.2"/>
<path d="M274.2 1267.3V1224.7M261.95 1224.7H286.45" fill="none" stroke="#000" stroke-width="3.2"/>
<path d="M346.3 1380.8V1364.3M334.05 1364.3H358.55" fill="none" stroke="#000" stroke-width="3.2"/>
<path d="M418.8 1343.3V1306M406.55 1306H431.05" fill="none" stroke="#000" stroke-width="3.2"/>
<path d="M154.25 1149.4V1464.2M141.05 1464.2H468.25M141.05 1385.9H154.25M141.05 1307.6H154.25M141.05 1229.3H154.25M141.05 1151H154.25M201.7 1464.2V1477.9M274.2 1464.2V1477.9M346.3 1464.2V1477.9M418.8 1464.2V1477.9" fill="none" stroke="#000" stroke-width="3.2"/>
<text class="b" font-size="30" text-anchor="end" x="136.35" y="1474.94">0</text>
<text class="b" font-size="30" text-anchor="end" x="136.35" y="1396.64">200</text>
<text class="b" font-size="30" text-anchor="end" x="136.35" y="1318.34">400</text>
<text class="b" font-size="30" text-anchor="end" x="136.35" y="1240.04">600</text>
<text class="b" font-size="30" text-anchor="end" x="136.35" y="1161.74">800</text>
<text class="b" font-size="30" text-anchor="end" transform="translate(210.7 1504.2) rotate(-45)">Control</text>
<text class="b" font-size="30" text-anchor="end" transform="translate(283.2 1504.2) rotate(-45)">Model</text>
<text class="b" font-size="30" text-anchor="end" transform="translate(356.36 1503.14) rotate(-45)">ATO</text>
<text class="b" font-size="30" text-anchor="end" transform="translate(423.2 1508.8) rotate(-45)">BA</text>
<text class="b" font-size="30" text-anchor="middle" transform="translate(68.64 1304) rotate(-90)">MCP-1 (ng/L)</text>
<text class="s" font-size="45" text-anchor="middle" x="275.8" y="1205.28">**</text>
<text class="h" font-size="30" text-anchor="middle" x="346.7" y="1329.04">##</text>
<text class="h" font-size="30" text-anchor="middle" x="421.2" y="1254.04">##</text>
<g fill="#000"><circle cx="202" cy="1356.5" r="4.75"/><circle cx="202" cy="1376.83" r="4.75"/><circle cx="181.17" cy="1388.5" r="4.75"/><circle cx="191.67" cy="1387.33" r="4.75"/><circle cx="202" cy="1389.83" r="4.75"/><circle cx="223.33" cy="1391.5" r="4.75"/><circle cx="191.67" cy="1394.33" r="4.75"/><circle cx="212.5" cy="1394.33" r="4.75"/><circle cx="191.67" cy="1401.33" r="4.75"/><circle cx="212.5" cy="1401" r="4.75"/><circle cx="268" cy="1209.83" r="4.75"/><circle cx="280.83" cy="1215.67" r="4.75"/><circle cx="268" cy="1220.67" r="4.75"/><circle cx="274.5" cy="1257.67" r="4.75"/><circle cx="268" cy="1267.33" r="4.75"/><circle cx="280.83" cy="1264" r="4.75"/><circle cx="274.5" cy="1278" r="4.75"/><circle cx="274.5" cy="1298.83" r="4.75"/><circle cx="274.5" cy="1314.67" r="4.75"/><circle cx="274.5" cy="1328" r="4.75"/><circle cx="346.33" cy="1352.17" r="4.75"/><circle cx="339.5" cy="1363" r="4.75"/><circle cx="353.67" cy="1365.5" r="4.75"/><circle cx="339.5" cy="1374.33" r="4.75"/><circle cx="353.67" cy="1379.67" r="4.75"/><circle cx="339.5" cy="1385.17" r="4.75"/><circle cx="325.83" cy="1394.33" r="4.75"/><circle cx="339.5" cy="1392.17" r="4.75"/><circle cx="353.67" cy="1393" r="4.75"/><circle cx="367.83" cy="1392.67" r="4.75"/><circle cx="418.83" cy="1276" r="4.75"/><circle cx="418.83" cy="1313.17" r="4.75"/><circle cx="412.5" cy="1323.5" r="4.75"/><circle cx="425.5" cy="1321.83" r="4.75"/><circle cx="425.5" cy="1328" r="4.75"/><circle cx="418.83" cy="1351" r="4.75"/><circle cx="418.83" cy="1361.33" r="4.75"/><circle cx="418.83" cy="1369.33" r="4.75"/><circle cx="412.5" cy="1387.33" r="4.75"/><circle cx="425.5" cy="1385.67" r="4.75"/></g>
</g>
<g class="chart" id="c-VCAM1">
<rect x="617.3" y="1315.2" width="44.8" height="145.7" fill="#f3f3f3" stroke="#000" stroke-width="3.2"/>
<rect x="689.8" y="1245.9" width="44.4" height="215" fill="#dddddd" stroke="#000" stroke-width="3.2"/>
<rect x="761.9" y="1286.6" width="44.7" height="174.3" fill="#d4fdfd" stroke="#000" stroke-width="3.2"/>
<rect x="834.4" y="1281.6" width="44.3" height="179.3" fill="#eec1df" stroke="#000" stroke-width="3.2"/>
<path d="M639.5 1315.2V1292.8M627.25 1292.8H651.75" fill="none" stroke="#000" stroke-width="3.2"/>
<path d="M711.7 1245.9V1229.8M699.45 1229.8H723.95" fill="none" stroke="#000" stroke-width="3.2"/>
<path d="M784.2 1286.6V1254.2M771.95 1254.2H796.45" fill="none" stroke="#000" stroke-width="3.2"/>
<path d="M856.2 1281.6V1258.3M843.95 1258.3H868.45" fill="none" stroke="#000" stroke-width="3.2"/>
<path d="M591.2 1145.7V1460.9M578 1460.9H905.75M578 1382.5H591.2M578 1304.1H591.2M578 1225.7H591.2M578 1147.3H591.2M639.5 1460.9V1474.6M711.7 1460.9V1474.6M784.2 1460.9V1474.6M856.2 1460.9V1474.6" fill="none" stroke="#000" stroke-width="3.2"/>
<text class="b" font-size="30" text-anchor="end" x="573.3" y="1471.64">0</text>
<text class="b" font-size="30" text-anchor="end" x="573.3" y="1393.24">5</text>
<text class="b" font-size="30" text-anchor="end" x="573.3" y="1314.84">10</text>
<text class="b" font-size="30" text-anchor="end" x="573.3" y="1236.44">15</text>
<text class="b" font-size="30" text-anchor="end" x="573.3" y="1158.04">20</text>
<text class="b" font-size="30" text-anchor="end" transform="translate(648.5 1500.9) rotate(-45)">Control</text>
<text class="b" font-size="30" text-anchor="end" transform="translate(720.7 1500.9) rotate(-45)">Model</text>
<text class="b" font-size="30" text-anchor="end" transform="translate(794.26 1499.84) rotate(-45)">ATO</text>
<text class="b" font-size="30" text-anchor="end" transform="translate(860.6 1505.5) rotate(-45)">BA</text>
<text class="b" font-size="30" text-anchor="middle" transform="translate(522.84 1302) rotate(-90)">VCAM-1 (ng/mL)</text>
<text class="s" font-size="45" text-anchor="middle" x="713" y="1204.28">**</text>
<text class="h" font-size="30" text-anchor="middle" x="783.8" y="1222.04">##</text>
<text class="h" font-size="30" text-anchor="middle" x="858.5" y="1225.04">##</text>
<g fill="#000"><circle cx="639.5" cy="1276.67" r="4.75"/><circle cx="639.5" cy="1293.17" r="4.75"/><circle cx="639.5" cy="1300.33" r="4.75"/><circle cx="639.5" cy="1309.83" r="4.75"/><circle cx="627" cy="1311.67" r="4.75"/><circle cx="639.5" cy="1316.67" r="4.75"/><circle cx="627" cy="1325" r="4.75"/><circle cx="639.5" cy="1328.17" r="4.75"/><circle cx="652" cy="1327.83" r="4.75"/><circle cx="639.5" cy="1352.5" r="4.75"/><circle cx="711.67" cy="1212.33" r="4.75"/><circle cx="711.67" cy="1229.83" r="4.75"/><circle cx="711.67" cy="1237.33" r="4.75"/><circle cx="699.17" cy="1244.83" r="4.75"/><circle cx="711.67" cy="1245.33" r="4.75"/><circle cx="724.5" cy="1247.5" r="4.75"/><circle cx="699.17" cy="1253.67" r="4.75"/><circle cx="711.67" cy="1256.17" r="4.75"/><circle cx="724.5" cy="1258.17" r="4.75"/><circle cx="699.17" cy="1262.83" r="4.75"/><circle cx="784.17" cy="1252" r="4.75"/><circle cx="771.17" cy="1255.83" r="4.75"/><circle cx="796.67" cy="1255.83" r="4.75"/><circle cx="784.17" cy="1260.33" r="4.75"/><circle cx="784.17" cy="1273.33" r="4.75"/><circle cx="796.67" cy="1294.17" r="4.75"/><circle cx="784.17" cy="1296.67" r="4.75"/><circle cx="796.67" cy="1305.33" r="4.75"/><circle cx="784.17" cy="1309.5" r="4.75"/><circle cx="784.17" cy="1346.17" r="4.75"/><circle cx="856.5" cy="1251.17" r="4.75"/><circle cx="849.83" cy="1261.17" r="4.75"/><circle cx="862.5" cy="1264.5" r="4.75"/><circle cx="856.5" cy="1271.67" r="4.75"/><circle cx="869.17" cy="1272.5" r="4.75"/><circle cx="843.67" cy="1277" r="4.75"/><circle cx="856.5" cy="1282.83" r="4.75"/><circle cx="856.5" cy="1290.83" r="4.75"/><circle cx="856.5" cy="1302.83" r="4.75"/><circle cx="856.5" cy="1321.5" r="4.75"/></g>
</g>
<g class="chart" id="c-MMP9">
<rect x="1065.4" y="1307.7" width="45" height="145.9" fill="#f3f3f3" stroke="#000" stroke-width="3.2"/>
<rect x="1137.8" y="1234.3" width="44.8" height="219.3" fill="#dddddd" stroke="#000" stroke-width="3.2"/>
<rect x="1209.9" y="1280.7" width="45.2" height="172.9" fill="#d4fdfd" stroke="#000" stroke-width="3.2"/>
<rect x="1282.1" y="1297.9" width="44.6" height="155.7" fill="#eec1df" stroke="#000" stroke-width="3.2"/>
<path d="M1087.8 1307.7V1280.3M1075.55 1280.3H1100.05" fill="none" stroke="#000" stroke-width="3.2"/>
<path d="M1159.7 1234.3V1200.3M1147.45 1200.3H1171.95" fill="none" stroke="#000" stroke-width="3.2"/>
<path d="M1231.7 1280.7V1247.2M1219.45 1247.2H1243.95" fill="none" stroke="#000" stroke-width="3.2"/>
<path d="M1304.2 1297.9V1265.3M1291.95 1265.3H1316.45" fill="none" stroke="#000" stroke-width="3.2"/>
<path d="M1039.6 1140.2V1453.6M1026.4 1453.6H1353.75M1026.4 1375.65H1039.6M1026.4 1297.7H1039.6M1026.4 1219.75H1039.6M1026.4 1141.8H1039.6M1087.8 1453.6V1467.3M1159.7 1453.6V1467.3M1231.7 1453.6V1467.3M1304.2 1453.6V1467.3" fill="none" stroke="#000" stroke-width="3.2"/>
<text class="b" font-size="30" text-anchor="end" x="1021.7" y="1464.34">0</text>
<text class="b" font-size="30" text-anchor="end" x="1021.7" y="1386.39">100</text>
<text class="b" font-size="30" text-anchor="end" x="1021.7" y="1308.44">200</text>
<text class="b" font-size="30" text-anchor="end" x="1021.7" y="1230.49">300</text>
<text class="b" font-size="30" text-anchor="end" x="1021.7" y="1152.54">400</text>
<text class="b" font-size="30" text-anchor="end" transform="translate(1096.8 1493.6) rotate(-45)">Control</text>
<text class="b" font-size="30" text-anchor="end" transform="translate(1168.7 1493.6) rotate(-45)">Model</text>
<text class="b" font-size="30" text-anchor="end" transform="translate(1241.76 1492.54) rotate(-45)">ATO</text>
<text class="b" font-size="30" text-anchor="end" transform="translate(1308.6 1498.2) rotate(-45)">BA</text>
<text class="b" font-size="30" text-anchor="middle" transform="translate(953.94 1294) rotate(-90)">MMP9 (ng/mL)</text>
<text class="s" font-size="45" text-anchor="middle" x="1160" y="1188.28">**</text>
<text class="h" font-size="30" text-anchor="middle" x="1230.7" y="1199.04">##</text>
<text class="h" font-size="30" text-anchor="middle" x="1305.3" y="1223.84">##</text>
<g fill="#000"><circle cx="1087.83" cy="1257.17" r="4.75"/><circle cx="1087.83" cy="1280" r="4.75"/><circle cx="1087.83" cy="1292" r="4.75"/><circle cx="1075" cy="1304.67" r="4.75"/><circle cx="1100.5" cy="1306.67" r="4.75"/><circle cx="1075" cy="1313.33" r="4.75"/><circle cx="1087.83" cy="1311.67" r="4.75"/><circle cx="1100.5" cy="1318" r="4.75"/><circle cx="1087.83" cy="1325.5" r="4.75"/><circle cx="1087.83" cy="1350.5" r="4.75"/><circle cx="1166.17" cy="1191.67" r="4.75"/><circle cx="1153.33" cy="1197.17" r="4.75"/><circle cx="1160" cy="1218.33" r="4.75"/><circle cx="1172.5" cy="1220.83" r="4.75"/><circle cx="1147.17" cy="1224.17" r="4.75"/><circle cx="1172.5" cy="1229.17" r="4.75"/><circle cx="1160" cy="1231.67" r="4.75"/><circle cx="1160" cy="1251.33" r="4.75"/><circle cx="1160" cy="1261.33" r="4.75"/><circle cx="1160" cy="1303.83" r="4.75"/><circle cx="1232.17" cy="1220.83" r="4.75"/><circle cx="1232.17" cy="1245.83" r="4.75"/><circle cx="1225.83" cy="1259.67" r="4.75"/><circle cx="1238.33" cy="1259.67" r="4.75"/><circle cx="1232.17" cy="1275.83" r="4.75"/><circle cx="1232.17" cy="1293" r="4.75"/><circle cx="1225.83" cy="1304.67" r="4.75"/><circle cx="1238.33" cy="1304.67" r="4.75"/><circle cx="1225.83" cy="1313" r="4.75"/><circle cx="1238.33" cy="1311.67" r="4.75"/><circle cx="1304.5" cy="1246.33" r="4.75"/><circle cx="1304.5" cy="1257.17" r="4.75"/><circle cx="1297.83" cy="1281.67" r="4.75"/><circle cx="1310.83" cy="1280.83" r="4.75"/><circle cx="1304.5" cy="1292.5" r="4.75"/><circle cx="1304.5" cy="1300.5" r="4.75"/><circle cx="1304.5" cy="1313.33" r="4.75"/><circle cx="1297.83" cy="1321.33" r="4.75"/><circle cx="1310.83" cy="1321.33" r="4.75"/><circle cx="1304.5" cy="1347.83" r="4.75"/></g>
</g>
<g class="chart" id="c-ALT">
<rect x="173.4" y="1951.5" width="46" height="25.7" fill="#f3f3f3" stroke="#000" stroke-width="3.2"/>
<rect x="246.6" y="1784.5" width="44.8" height="192.7" fill="#dddddd" stroke="#000" stroke-width="3.2"/>
<rect x="318.8" y="1865.7" width="45.1" height="111.5" fill="#d4fdfd" stroke="#000" stroke-width="3.2"/>
<rect x="391.3" y="1888.7" width="45.1" height="88.5" fill="#eec1df" stroke="#000" stroke-width="3.2"/>
<path d="M196 1951.5V1933M183.75 1933H208.25" fill="none" stroke="#000" stroke-width="3.2"/>
<path d="M268.8 1784.5V1733M256.55 1733H281.05" fill="none" stroke="#000" stroke-width="3.2"/>
<path d="M341.3 1865.7V1853M329.05 1853H353.55" fill="none" stroke="#000" stroke-width="3.2"/>
<path d="M413.5 1888.7V1875.5M401.25 1875.5H425.75" fill="none" stroke="#000" stroke-width="3.2"/>
<path d="M148.2 1662.2V1977.2M135 1977.2H463.25M135 1898.85H148.2M135 1820.5H148.2M135 1742.15H148.2M135 1663.8H148.2M196 1977.2V1990.9M268.8 1977.2V1990.9M341.3 1977.2V1990.9M413.5 1977.2V1990.9" fill="none" stroke="#000" stroke-width="3.2"/>
<text class="b" font-size="30" text-anchor="end" x="130.3" y="1987.94">0</text>
<text class="b" font-size="30" text-anchor="end" x="130.3" y="1909.59">100</text>
<text class="b" font-size="30" text-anchor="end" x="130.3" y="1831.24">200</text>
<text class="b" font-size="30" text-anchor="end" x="130.3" y="1752.89">300</text>
<text class="b" font-size="30" text-anchor="end" x="130.3" y="1674.54">400</text>
<text class="b" font-size="30" text-anchor="end" transform="translate(205 2017.2) rotate(-45)">Control</text>
<text class="b" font-size="30" text-anchor="end" transform="translate(277.8 2017.2) rotate(-45)">Model</text>
<text class="b" font-size="30" text-anchor="end" transform="translate(351.36 2016.14) rotate(-45)">ATO</text>
<text class="b" font-size="30" text-anchor="end" transform="translate(417.9 2021.8) rotate(-45)">BA</text>
<text class="b" font-size="30" text-anchor="middle" transform="translate(63.74 1817) rotate(-90)">ALT (U/L)</text>
<text class="s" font-size="45" text-anchor="middle" x="269.5" y="1694.53">**</text>
<text class="h" font-size="30" text-anchor="middle" x="340.5" y="1829.84">##</text>
<text class="h" font-size="30" text-anchor="middle" x="416.5" y="1844.74">##</text>
<g fill="#000"><circle cx="196" cy="1915.83" r="4.75"/><circle cx="189.17" cy="1936.33" r="4.75"/><circle cx="203" cy="1934.17" r="4.75"/><circle cx="196" cy="1945.5" r="4.75"/><circle cx="175.17" cy="1958.5" r="4.75"/><circle cx="203" cy="1956.67" r="4.75"/><circle cx="189.17" cy="1960.83" r="4.75"/><circle cx="217.17" cy="1962.17" r="4.75"/><circle cx="175.17" cy="1966" r="4.75"/><circle cx="203" cy="1966" r="4.75"/><circle cx="268.83" cy="1697.67" r="4.75"/><circle cx="268.83" cy="1706.33" r="4.75"/><circle cx="268.83" cy="1738" r="4.75"/><circle cx="262.5" cy="1794.17" r="4.75"/><circle cx="275" cy="1794.67" r="4.75"/><circle cx="281.33" cy="1811.33" r="4.75"/><circle cx="256" cy="1814.33" r="4.75"/><circle cx="281.33" cy="1818.83" r="4.75"/><circle cx="268.83" cy="1820.5" r="4.75"/><circle cx="268.83" cy="1832.5" r="4.75"/><circle cx="362.17" cy="1853.5" r="4.75"/><circle cx="320" cy="1855.5" r="4.75"/><circle cx="351.67" cy="1854.33" r="4.75"/><circle cx="330.5" cy="1858" r="4.75"/><circle cx="341" cy="1856" r="4.75"/><circle cx="341" cy="1863.33" r="4.75"/><circle cx="330.5" cy="1870" r="4.75"/><circle cx="351.67" cy="1870.5" r="4.75"/><circle cx="346.33" cy="1878" r="4.75"/><circle cx="336" cy="1881.33" r="4.75"/><circle cx="420.5" cy="1867.67" r="4.75"/><circle cx="406.33" cy="1873.33" r="4.75"/><circle cx="392.67" cy="1878" r="4.75"/><circle cx="434.67" cy="1882.17" r="4.75"/><circle cx="420.5" cy="1885.5" r="4.75"/><circle cx="392.67" cy="1887.17" r="4.75"/><circle cx="406.33" cy="1895.5" r="4.75"/><circle cx="434.67" cy="1896.33" r="4.75"/><circle cx="420.5" cy="1899.67" r="4.75"/><circle cx="392.67" cy="1901" r="4.75"/></g>
</g>
<g class="chart" id="c-AST">
<rect x="626.9" y="1898.2" width="44.8" height="76.7" fill="#f3f3f3" stroke="#000" stroke-width="3.2"/>
<rect x="699.1" y="1721.2" width="44.6" height="253.7" fill="#dddddd" stroke="#000" stroke-width="3.2"/>
<rect x="770.8" y="1867" width="44.9" height="107.9" fill="#d4fdfd" stroke="#000" stroke-width="3.2"/>
<rect x="843.3" y="1805.3" width="44.9" height="169.6" fill="#eec1df" stroke="#000" stroke-width="3.2"/>
<path d="M649.2 1898.2V1876.5M636.95 1876.5H661.45" fill="none" stroke="#000" stroke-width="3.2"/>
<path d="M720.8 1721.2V1698.2M708.55 1698.2H733.05" fill="none" stroke="#000" stroke-width="3.2"/>
<path d="M793.2 1867V1825.2M780.95 1825.2H805.45" fill="none" stroke="#000" stroke-width="3.2"/>
<path d="M865.3 1805.3V1790.2M853.05 1790.2H877.55" fill="none" stroke="#000" stroke-width="3.2"/>
<path d="M601.5 1661.7V1974.9M588.3 1974.9H914.5M588.3 1871.03H601.5M588.3 1767.17H601.5M588.3 1663.3H601.5M649.2 1974.9V1988.6M720.8 1974.9V1988.6M793.2 1974.9V1988.6M865.3 1974.9V1988.6" fill="none" stroke="#000" stroke-width="3.2"/>
<text class="b" font-size="30" text-anchor="end" x="583.6" y="1985.64">0</text>
<text class="b" font-size="30" text-anchor="end" x="583.6" y="1881.77">100</text>
<text class="b" font-size="30" text-anchor="end" x="583.6" y="1777.91">200</text>
<text class="b" font-size="30" text-anchor="end" x="583.6" y="1674.04">300</text>
<text class="b" font-size="30" text-anchor="end" transform="translate(658.2 2014.9) rotate(-45)">Control</text>
<text class="b" font-size="30" text-anchor="end" transform="translate(729.8 2014.9) rotate(-45)">Model</text>
<text class="b" font-size="30" text-anchor="end" transform="translate(803.26 2013.84) rotate(-45)">ATO</text>
<text class="b" font-size="30" text-anchor="end" transform="translate(869.7 2019.5) rotate(-45)">BA</text>
<text class="b" font-size="30" text-anchor="middle" transform="translate(516.24 1815) rotate(-90)">AST (U/L)</text>
<text class="s" font-size="45" text-anchor="middle" x="721.75" y="1690.78">**</text>
<text class="h" font-size="30" text-anchor="middle" x="794.1" y="1764.04">##</text>
<text class="h" font-size="30" text-anchor="middle" x="866.3" y="1762.54">##</text>
<g fill="#000"><circle cx="649.17" cy="1854.67" r="4.75"/><circle cx="649.17" cy="1874" r="4.75"/><circle cx="636.67" cy="1894.33" r="4.75"/><circle cx="649.17" cy="1895.67" r="4.75"/><circle cx="661.67" cy="1895.17" r="4.75"/><circle cx="636.67" cy="1901.83" r="4.75"/><circle cx="649.17" cy="1903.5" r="4.75"/><circle cx="661.67" cy="1907.67" r="4.75"/><circle cx="649.17" cy="1911.5" r="4.75"/><circle cx="649.17" cy="1923.5" r="4.75"/><circle cx="721.17" cy="1694" r="4.75"/><circle cx="708.67" cy="1699.83" r="4.75"/><circle cx="721.17" cy="1701.33" r="4.75"/><circle cx="721.17" cy="1713.5" r="4.75"/><circle cx="708.67" cy="1716.5" r="4.75"/><circle cx="734" cy="1714.33" r="4.75"/><circle cx="714.83" cy="1726.83" r="4.75"/><circle cx="727.5" cy="1726" r="4.75"/><circle cx="721.17" cy="1739" r="4.75"/><circle cx="721.17" cy="1767.67" r="4.75"/><circle cx="793.33" cy="1785.17" r="4.75"/><circle cx="787" cy="1834.67" r="4.75"/><circle cx="799.5" cy="1838" r="4.75"/><circle cx="787" cy="1842.17" r="4.75"/><circle cx="793.33" cy="1863.5" r="4.75"/><circle cx="793.33" cy="1886" r="4.75"/><circle cx="793.33" cy="1892.67" r="4.75"/><circle cx="787" cy="1900.5" r="4.75"/><circle cx="799.5" cy="1902.67" r="4.75"/><circle cx="793.33" cy="1909" r="4.75"/><circle cx="872.33" cy="1779" r="4.75"/><circle cx="858.33" cy="1783.83" r="4.75"/><circle cx="886.17" cy="1799" r="4.75"/><circle cx="858.33" cy="1802.67" r="4.75"/><circle cx="872.33" cy="1801" r="4.75"/><circle cx="844.5" cy="1810.67" r="4.75"/><circle cx="858.33" cy="1814" r="4.75"/><circle cx="844.5" cy="1817.67" r="4.75"/><circle cx="872.33" cy="1816.33" r="4.75"/><circle cx="886.17" cy="1815.5" r="4.75"/></g>
</g>
<text class="L" font-size="63" x="17.6" y="45.8">A</text>
<text class="L" font-size="63" x="9.3" y="576.3">B</text>
<text class="L" font-size="64" x="919" y="581.3">C</text>
<text class="L" font-size="63" x="1.4" y="1104.4">D</text>
<text class="L" font-size="63" x="2.5" y="1633.3">E</text>
</svg>
</body>
</html>
